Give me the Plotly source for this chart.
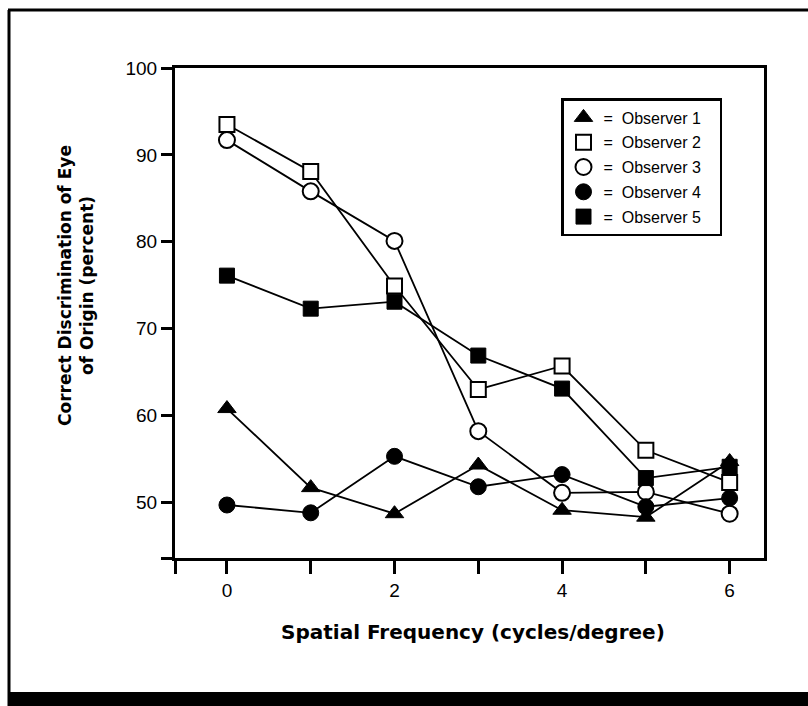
import plotly.graph_objects as go

# Spatial frequency (cycles/degree) and percent-correct per observer
freq = [0, 1, 2, 3, 4, 5, 6]
observer_1 = [60.8, 51.7, 48.7, 54.3, 49.1, 48.3, 54.7]
observer_2 = [93.5, 88.1, 74.9, 63.0, 65.7, 56.0, 52.3]
observer_3 = [91.7, 85.8, 80.1, 58.2, 51.1, 51.2, 48.7]
observer_4 = [49.7, 48.8, 55.3, 51.8, 53.2, 49.5, 50.5]
observer_5 = [76.1, 72.3, 73.1, 66.9, 63.1, 52.8, 54.1]

observer_names = ["Observer 1", "Observer 2", "Observer 3", "Observer 4", "Observer 5"]
series = [observer_1, observer_2, observer_3, observer_4, observer_5]

x_tick_vals = [0, 1, 2, 3, 4, 5, 6]
x_tick_text = ["0", "", "2", "", "4", "", "6"]
y_tick_vals = [50, 60, 70, 80, 90, 100]
y_tick_text = ["50", "60", "70", "80", "90", "100"]

X_RANGE = [-0.62, 6.41]
Y_RANGE = [43.6, 100]

# page geometry
W, H = 808, 706
ML, MR, MT, MB = 175, 44, 68, 148
PW, PH = W - ML - MR, H - MT - MB


def px(x):
    return (x - ML) / PW


def py(y):
    return (H - MB - y) / PH


BLACK = "#000000"
styles = [
    dict(symbol="triangle-up", size=16, color=BLACK, line=dict(color=BLACK, width=1)),
    dict(symbol="square", size=15, color="white", line=dict(color=BLACK, width=2)),
    dict(symbol="circle", size=16, color="white", line=dict(color=BLACK, width=2)),
    dict(symbol="circle", size=16, color=BLACK, line=dict(color=BLACK, width=1)),
    dict(symbol="square", size=15, color=BLACK, line=dict(color=BLACK, width=1)),
]

fig = go.Figure()

# connecting lines first so every marker sits on top of every line
for vals in series:
    fig.add_trace(go.Scatter(x=freq, y=vals, mode="lines",
                             line=dict(color=BLACK, width=1.8),
                             showlegend=False, hoverinfo="skip"))

for name, vals, st in zip(observer_names, series, styles):
    fig.add_trace(go.Scatter(x=freq, y=vals, mode="markers", marker=st,
                             name=name, showlegend=False))

# legend entries (symbols only); trailing spaces widen the legend box
for i, (name, st) in enumerate(zip(observer_names, styles)):
    fig.add_trace(go.Scatter(x=[None], y=[None], mode="markers", marker=st,
                             name="=\u00a0\u00a0" + name + "\u00a0\u00a0\u00a0",
                             legendgroup=str(i), showlegend=True))

tick_font = dict(family="Liberation Sans, Arial, sans-serif", size=19, color=BLACK)
title_font = dict(family="DejaVu Sans, sans-serif", size=17, color=BLACK)

fig.update_xaxes(
    range=X_RANGE, showgrid=False, zeroline=False,
    showline=True, linecolor=BLACK, linewidth=3, mirror=True,
    ticks="outside", ticklen=13, tickwidth=2.5, tickcolor=BLACK,
    tickvals=[X_RANGE[0]] + x_tick_vals, ticktext=[""] + x_tick_text,
    tickfont=tick_font,
)
fig.update_yaxes(
    range=Y_RANGE, showgrid=False, zeroline=False,
    showline=True, linecolor=BLACK, linewidth=3, mirror=True,
    ticks="outside", ticklen=11, tickwidth=2.5, tickcolor=BLACK,
    tickvals=[Y_RANGE[0]] + y_tick_vals, ticktext=[""] + y_tick_text,
    tickfont=tick_font,
)

fig.update_layout(
    width=W, height=H,
    margin=dict(l=ML, r=MR, t=MT, b=MB),
    paper_bgcolor="white", plot_bgcolor="white",
    legend=dict(
        x=px(561), y=py(98), xanchor="left", yanchor="top",
        bordercolor=BLACK, borderwidth=2.5, bgcolor="white",
        font=dict(family="Liberation Sans, Arial, sans-serif", size=16, color=BLACK),
        traceorder="grouped", tracegroupgap=1,
    ),
    annotations=[
        dict(text="<b>Correct Discrimination of Eye<br>of Origin (percent)</b>",
             xref="paper", yref="paper", x=px(76), y=py(286),
             xanchor="center", yanchor="middle", textangle=-90,
             showarrow=False, font=title_font),
        dict(text="<b>Spatial Frequency (cycles/degree)</b>",
             xref="paper", yref="paper", x=px(473), y=py(632),
             xanchor="center", yanchor="middle",
             showarrow=False, font=dict(title_font, size=20)),
    ],
    shapes=[
        # outer frame: left edge, top edge, heavy bottom bar
        dict(type="line", xref="paper", yref="paper",
             x0=px(9), x1=px(9), y0=py(10), y1=py(706),
             line=dict(color=BLACK, width=3)),
        dict(type="line", xref="paper", yref="paper",
             x0=px(8), x1=px(808), y0=py(10), y1=py(10),
             line=dict(color=BLACK, width=3)),
        dict(type="rect", xref="paper", yref="paper",
             x0=px(8), x1=px(808), y0=py(692), y1=py(706),
             fillcolor=BLACK, line=dict(width=0)),
    ],
)

fig.write_html("out.html")
